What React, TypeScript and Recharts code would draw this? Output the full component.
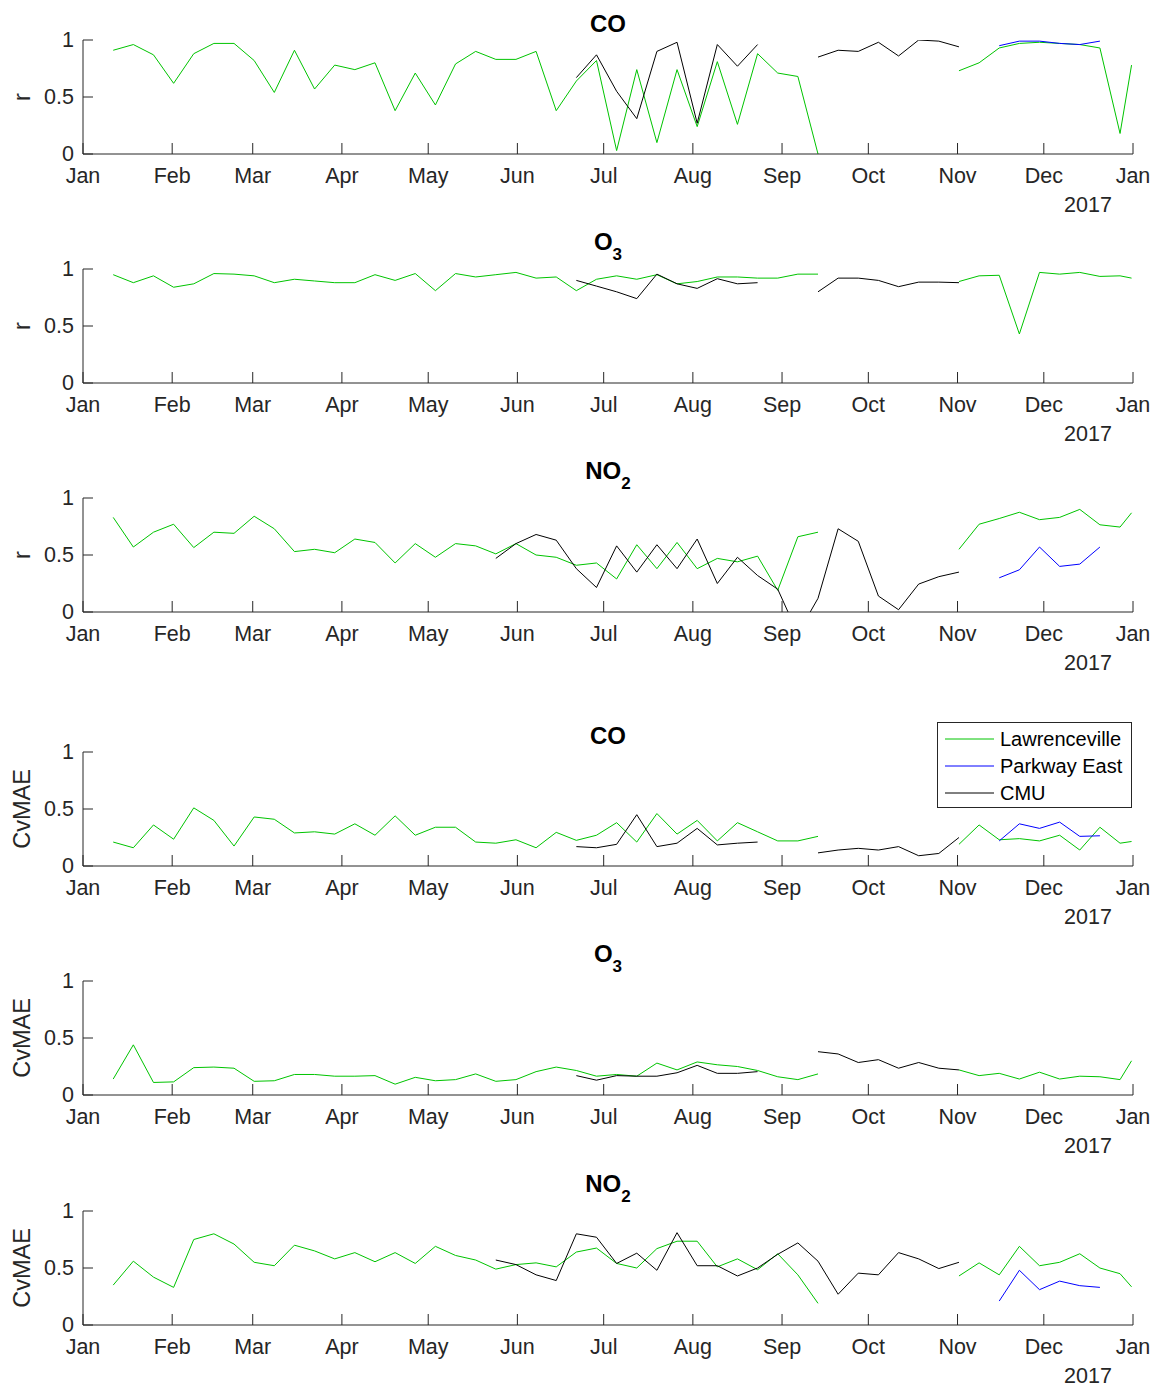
import React from 'react';
import { LineChart, Line, XAxis, YAxis } from 'recharts';

const _ = null;

// day of 2017 (Jan 1 = 0) for each weekly value, last one is the year-end partial week
const weekDays = [
  10.5, 17.5, 24.5, 31.5, 38.5, 45.5, 52.5, 59.5, 66.5, 73.5,
  80.5, 87.5, 94.5, 101.5, 108.5, 115.5, 122.5, 129.5, 136.5, 143.5,
  150.5, 157.5, 164.5, 171.5, 178.5, 185.5, 192.5, 199.5, 206.5, 213.5,
  220.5, 227.5, 234.5, 241.5, 248.5, 255.5, 262.5, 269.5, 276.5, 283.5,
  290.5, 297.5, 304.5, 311.5, 318.5, 325.5, 332.5, 339.5, 346.5, 353.5,
  360.5, 364.5,
];

const monthStarts = [0, 31, 59, 90, 120, 151, 181, 212, 243, 273, 304, 334, 365];
const monthLabels = ['Jan', 'Feb', 'Mar', 'Apr', 'May', 'Jun', 'Jul', 'Aug', 'Sep', 'Oct', 'Nov', 'Dec', 'Jan'];
const yearLabel = '2017';
const yTicks = [0, 0.5, 1];

// ---- r ----
const lawCoR = [
  0.91, 0.96, 0.87, 0.62, 0.88, 0.97, 0.97, 0.82, 0.54, 0.91,
  0.57, 0.78, 0.74, 0.80, 0.38, 0.71, 0.43, 0.79, 0.90, 0.83,
  0.83, 0.90, 0.38, 0.64, 0.82, 0.03, 0.74, 0.10, 0.74, 0.24,
  0.81, 0.26, 0.88, 0.71, 0.68, 0.0, _, _, _, _,
  _, _, 0.73, 0.80, 0.93, 0.97, 0.98, 0.97, 0.96, 0.93,
  0.18, 0.78,
];
const pkwCoR = [
  _, _, _, _, _, _, _, _, _, _,
  _, _, _, _, _, _, _, _, _, _,
  _, _, _, _, _, _, _, _, _, _,
  _, _, _, _, _, _, _, _, _, _,
  _, _, _, _, 0.95, 0.99, 0.99, 0.97, 0.96, 0.99,
  _, _,
];
const cmuCoR = [
  _, _, _, _, _, _, _, _, _, _,
  _, _, _, _, _, _, _, _, _, _,
  _, _, _, 0.67, 0.87, 0.55, 0.31, 0.90, 0.98, 0.27,
  0.96, 0.77, 0.96, _, _, 0.85, 0.91, 0.90, 0.98, 0.86,
  1.0, 0.99, 0.94, _, _, _, _, _, _, _,
  _, _,
];

const lawO3R = [
  0.95, 0.88, 0.94, 0.84, 0.87, 0.96, 0.955, 0.94, 0.88, 0.91,
  0.895, 0.88, 0.88, 0.95, 0.90, 0.96, 0.81, 0.96, 0.93, 0.95,
  0.97, 0.92, 0.93, 0.81, 0.91, 0.94, 0.91, 0.95, 0.87, 0.89,
  0.93, 0.93, 0.92, 0.92, 0.955, 0.955, _, _, _, _,
  _, _, 0.89, 0.94, 0.945, 0.43, 0.97, 0.955, 0.97, 0.935,
  0.94, 0.92,
];
const cmuO3R = [
  _, _, _, _, _, _, _, _, _, _,
  _, _, _, _, _, _, _, _, _, _,
  _, _, _, 0.90, 0.85, 0.80, 0.74, 0.955, 0.87, 0.83,
  0.915, 0.87, 0.88, _, _, 0.80, 0.92, 0.92, 0.90, 0.845,
  0.885, 0.885, 0.88, _, _, _, _, _, _, _,
  _, _,
];

const lawNo2R = [
  0.83, 0.57, 0.70, 0.77, 0.565, 0.70, 0.69, 0.84, 0.73, 0.53,
  0.55, 0.52, 0.64, 0.61, 0.43, 0.60, 0.48, 0.60, 0.58, 0.51,
  0.60, 0.50, 0.48, 0.41, 0.43, 0.29, 0.59, 0.38, 0.61, 0.38,
  0.47, 0.44, 0.49, 0.19, 0.66, 0.70, _, _, _, _,
  _, _, 0.55, 0.77, 0.82, 0.875, 0.81, 0.83, 0.90, 0.765,
  0.745, 0.87,
];
const pkwNo2R = [
  _, _, _, _, _, _, _, _, _, _,
  _, _, _, _, _, _, _, _, _, _,
  _, _, _, _, _, _, _, _, _, _,
  _, _, _, _, _, _, _, _, _, _,
  _, _, _, _, 0.30, 0.37, 0.57, 0.40, 0.42, 0.57,
  _, _,
];
const cmuNo2R = [
  _, _, _, _, _, _, _, _, _, _,
  _, _, _, _, _, _, _, _, _, 0.47,
  0.60, 0.68, 0.63, 0.38, 0.215, 0.58, 0.35, 0.59, 0.38, 0.64,
  0.25, 0.48, 0.32, 0.20, -0.19, 0.12, 0.73, 0.62, 0.14, 0.02,
  0.245, 0.31, 0.35, _, _, _, _, _, _, _,
  _, _,
];

// ---- CvMAE ----
const lawCoE = [
  0.21, 0.16, 0.36, 0.235, 0.51, 0.40, 0.175, 0.43, 0.41, 0.29,
  0.30, 0.28, 0.37, 0.27, 0.44, 0.27, 0.34, 0.34, 0.21, 0.20,
  0.23, 0.16, 0.295, 0.225, 0.27, 0.38, 0.21, 0.46, 0.28, 0.40,
  0.22, 0.38, 0.30, 0.22, 0.22, 0.26, _, _, _, _,
  _, _, 0.19, 0.36, 0.23, 0.24, 0.22, 0.27, 0.14, 0.34,
  0.20, 0.215,
];
const pkwCoE = [
  _, _, _, _, _, _, _, _, _, _,
  _, _, _, _, _, _, _, _, _, _,
  _, _, _, _, _, _, _, _, _, _,
  _, _, _, _, _, _, _, _, _, _,
  _, _, _, _, 0.22, 0.37, 0.33, 0.385, 0.26, 0.265,
  _, _,
];
const cmuCoE = [
  _, _, _, _, _, _, _, _, _, _,
  _, _, _, _, _, _, _, _, _, _,
  _, _, _, 0.17, 0.16, 0.19, 0.45, 0.17, 0.20, 0.33,
  0.185, 0.20, 0.21, _, _, 0.115, 0.14, 0.155, 0.14, 0.17,
  0.09, 0.11, 0.25, _, _, _, _, _, _, _,
  _, _,
];

const lawO3E = [
  0.14, 0.44, 0.11, 0.115, 0.24, 0.245, 0.235, 0.12, 0.125, 0.18,
  0.18, 0.165, 0.165, 0.17, 0.095, 0.155, 0.125, 0.135, 0.185, 0.12,
  0.135, 0.205, 0.245, 0.215, 0.165, 0.18, 0.165, 0.28, 0.22, 0.29,
  0.265, 0.25, 0.215, 0.16, 0.135, 0.185, _, _, _, _,
  _, _, 0.22, 0.17, 0.19, 0.14, 0.20, 0.14, 0.165, 0.16,
  0.135, 0.30,
];
const cmuO3E = [
  _, _, _, _, _, _, _, _, _, _,
  _, _, _, _, _, _, _, _, _, _,
  _, _, _, 0.17, 0.13, 0.17, 0.165, 0.165, 0.195, 0.26,
  0.19, 0.19, 0.205, _, _, 0.38, 0.36, 0.285, 0.31, 0.235,
  0.285, 0.235, 0.22, _, _, _, _, _, _, _,
  _, _,
];

const lawNo2E = [
  0.35, 0.56, 0.42, 0.33, 0.75, 0.80, 0.71, 0.55, 0.52, 0.70,
  0.65, 0.58, 0.635, 0.555, 0.635, 0.54, 0.69, 0.61, 0.57, 0.49,
  0.53, 0.545, 0.51, 0.64, 0.675, 0.54, 0.50, 0.67, 0.735, 0.735,
  0.51, 0.58, 0.485, 0.625, 0.44, 0.19, _, _, _, _,
  _, _, 0.43, 0.545, 0.44, 0.69, 0.52, 0.55, 0.625, 0.50,
  0.45, 0.335,
];
const pkwNo2E = [
  _, _, _, _, _, _, _, _, _, _,
  _, _, _, _, _, _, _, _, _, _,
  _, _, _, _, _, _, _, _, _, _,
  _, _, _, _, _, _, _, _, _, _,
  _, _, _, _, 0.21, 0.48, 0.31, 0.385, 0.345, 0.33,
  _, _,
];
const cmuNo2E = [
  _, _, _, _, _, _, _, _, _, _,
  _, _, _, _, _, _, _, _, _, 0.57,
  0.53, 0.44, 0.39, 0.80, 0.77, 0.54, 0.63, 0.48, 0.81, 0.52,
  0.52, 0.43, 0.50, 0.62, 0.72, 0.56, 0.27, 0.455, 0.44, 0.635,
  0.58, 0.495, 0.55, _, _, _, _, _, _, _,
  _, _,
];

const FONT = '"Liberation Sans", Arial, Helvetica, sans-serif';
const AXIS = '#262626';
const GREEN = '#00c400';
const BLUE = '#0000ff';
const BLACK = '#000000';

const W = 1154;
const LEFT = 83;
const RIGHT = 1133;
const PLOT_TOP = 40;
const PLOT_H = 114;
const X_AXIS_H = 66;
const CHART_H = PLOT_TOP + PLOT_H + X_AXIS_H;

const legendItems = [
  { name: 'Lawrenceville', color: GREEN },
  { name: 'Parkway East', color: BLUE },
  { name: 'CMU', color: BLACK },
];

interface PanelProps {
  top: number;
  title: string;
  sub?: string;
  yLabel: string;
  law: (number | null)[];
  pkw?: (number | null)[];
  cmu: (number | null)[];
  legend?: boolean;
}

function Panel({ top, title, sub, yLabel, law, pkw, cmu, legend }: PanelProps) {
  const rows = weekDays.map((day, i) => ({
    day,
    law: law[i],
    pkw: pkw ? pkw[i] : null,
    cmu: cmu[i],
  }));
  const axisY = PLOT_TOP + PLOT_H;
  const titleY = sub ? PLOT_TOP - 19 : PLOT_TOP - 8.5;

  const xTick = (props: any) => {
    const { x, payload } = props;
    const i = monthStarts.indexOf(payload.value);
    return (
      <g>
        <line x1={x} x2={x} y1={axisY} y2={axisY - 11} stroke={AXIS} />
        <text x={x} y={axisY + 29} textAnchor="middle" fontSize={21.5} fontFamily={FONT} fill={AXIS}>
          {monthLabels[i]}
        </text>
        {i === monthStarts.length - 1 && (
          <text x={x - 45} y={axisY + 58} textAnchor="middle" fontSize={21.5} fontFamily={FONT} fill={AXIS}>
            {yearLabel}
          </text>
        )}
      </g>
    );
  };

  const yTick = (props: any) => {
    const { y, payload } = props;
    return (
      <g>
        <line x1={LEFT} x2={LEFT + 10} y1={y} y2={y} stroke={AXIS} />
        <text x={LEFT - 9} y={y + 7} textAnchor="end" fontSize={21.5} fontFamily={FONT} fill={AXIS}>
          {payload.value}
        </text>
      </g>
    );
  };

  return (
    <div style={{ position: 'absolute', left: 0, top, width: W, height: CHART_H }}>
      <LineChart
        width={W}
        height={CHART_H}
        data={rows}
        margin={{ top: PLOT_TOP, right: W - RIGHT, bottom: 0, left: 0 }}
      >
        <XAxis
          dataKey="day"
          type="number"
          domain={[0, 365]}
          ticks={monthStarts}
          interval={0}
          height={X_AXIS_H}
          tickLine={false}
          axisLine={{ stroke: AXIS }}
          tick={xTick}
        />
        <YAxis
          type="number"
          domain={[0, 1]}
          ticks={yTicks}
          allowDataOverflow
          width={LEFT}
          tickLine={false}
          axisLine={{ stroke: AXIS }}
          tick={yTick}
        />
        <Line type="linear" dataKey="law" stroke={GREEN} strokeWidth={1} dot={false} activeDot={false} isAnimationActive={false} />
        {pkw && (
          <Line type="linear" dataKey="pkw" stroke={BLUE} strokeWidth={1} dot={false} activeDot={false} isAnimationActive={false} />
        )}
        <Line type="linear" dataKey="cmu" stroke={BLACK} strokeWidth={1} dot={false} activeDot={false} isAnimationActive={false} />
      </LineChart>
      <svg
        width={W}
        height={CHART_H}
        style={{ position: 'absolute', left: 0, top: 0, pointerEvents: 'none' }}
      >
        <text x={(LEFT + RIGHT) / 2} y={titleY} textAnchor="middle" fontSize={24} fontWeight="bold" fontFamily={FONT} fill="#000">
          <tspan>{title}</tspan>
          {sub && (
            <tspan dy={10} fontSize={17}>
              {sub}
            </tspan>
          )}
        </text>
        <text
          transform={`translate(30, ${PLOT_TOP + PLOT_H / 2}) rotate(-90)`}
          textAnchor="middle"
          fontSize={23.5}
          fontFamily={FONT}
          fill={AXIS}
        >
          {yLabel}
        </text>
        {legend && (
          <g>
            <rect x={937.5} y={10.5} width={194} height={85} fill="#fff" stroke={AXIS} />
            {legendItems.map((item, i) => (
              <g key={item.name}>
                <line x1={945} x2={994} y1={27 + i * 27} y2={27 + i * 27} stroke={item.color} />
                <text x={1000} y={34 + i * 27} fontSize={20} fontFamily={FONT} fill="#000">
                  {item.name}
                </text>
              </g>
            ))}
          </g>
        )}
      </svg>
    </div>
  );
}

export default function App() {
  return (
    <div
      style={{
        position: 'absolute',
        left: 0,
        top: 0,
        width: W,
        height: 1387,
        overflow: 'hidden',
        background: '#fff',
        fontFamily: FONT,
      }}
    >
      <Panel top={0} title="CO" yLabel="r" law={lawCoR} pkw={pkwCoR} cmu={cmuCoR} />
      <Panel top={229} title="O" sub="3" yLabel="r" law={lawO3R} cmu={cmuO3R} />
      <Panel top={458} title="NO" sub="2" yLabel="r" law={lawNo2R} pkw={pkwNo2R} cmu={cmuNo2R} />
      <Panel top={712} title="CO" yLabel="CvMAE" law={lawCoE} pkw={pkwCoE} cmu={cmuCoE} legend />
      <Panel top={941} title="O" sub="3" yLabel="CvMAE" law={lawO3E} cmu={cmuO3E} />
      <Panel top={1171} title="NO" sub="2" yLabel="CvMAE" law={lawNo2E} pkw={pkwNo2E} cmu={cmuNo2E} />
    </div>
  );
}
